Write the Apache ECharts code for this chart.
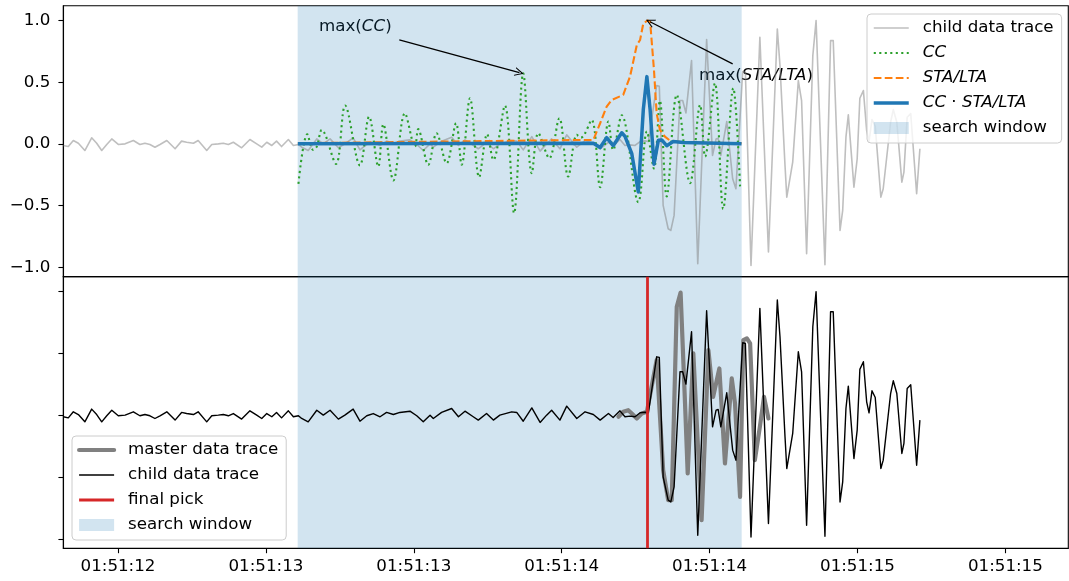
<!DOCTYPE html>
<html>
<head>
<meta charset="utf-8">
<script src="https://cdn.jsdelivr.net/npm/echarts@6/dist/echarts.min.js"></script>
<style>
html, body { margin: 0; padding: 0; background: #fff; }
#chart { width: 1069px; height: 581px; }
</style>
</head>
<body>
<div id="chart"></div>
<script>
// time axis is in seconds of 01:51:xx
var xTicks = [12.5, 13, 13.5, 14, 14.5, 15, 15.5];
var yTicks = [-1, -0.5, 0, 0.5, 1];

// child data trace (same trace in both panels)
var childT = [12.315,12.332,12.349,12.366,12.388,12.411,12.428,12.445,12.462,12.479,
  12.501,12.524,12.552,12.574,12.591,12.608,12.625,12.642,12.665,12.693,
  12.715,12.732,12.755,12.771,12.800,12.817,12.839,12.856,12.873,12.890,
  12.918,12.946,12.969,12.986,13.003,13.020,13.036,13.053,13.076,13.093,
  13.110,13.121,13.143,13.172,13.194,13.217,13.245,13.267,13.295,13.318,
  13.341,13.363,13.386,13.408,13.431,13.453,13.487,13.510,13.532,13.555,
  13.566,13.594,13.628,13.651,13.673,13.701,13.718,13.746,13.769,13.791,
  13.831,13.848,13.870,13.899,13.927,13.949,13.966,13.994,14.017,14.051,
  14.079,14.107,14.130,14.158,14.174,14.197,14.214,14.231,14.248,14.265,
  14.282,14.293,14.321,14.330,14.343,14.360,14.369,14.380,14.400,14.409,
  14.420,14.439,14.460,14.490,14.510,14.522,14.529,14.538,14.558,14.578,
  14.589,14.612,14.621,14.640,14.670,14.699,14.729,14.738,14.755,14.761,
  14.781,14.800,14.811,14.828,14.849,14.860,14.890,14.909,14.918,14.941,
  14.950,14.961,14.969,14.988,14.999,15.008,15.020,15.031,15.039,15.049,
  15.060,15.079,15.087,15.112,15.121,15.133,15.150,15.157,15.168,15.180,
  15.200,15.211];
var childV = [-0.013,-0.022,0.027,0.005,-0.054,0.049,0.005,-0.054,-0.005,0.040,
  -0.005,0,0.027,-0.005,0.005,-0.005,-0.027,-0.005,0.027,-0.040,
  0.022,0.013,0.005,0.027,-0.054,-0.005,0,0.005,-0.005,0.013,
  -0.032,0.035,0,-0.027,0.013,-0.013,0.022,-0.022,0.035,-0.013,
  -0.005,-0.027,-0.054,0.040,0,0.040,-0.032,0,0.049,-0.049,
  -0.005,0.013,-0.013,0.022,0.005,0.022,0.032,-0.005,-0.054,0,
  -0.027,0.022,0.054,-0.013,0.032,-0.013,-0.040,0.013,-0.040,0,
  0.027,0.022,-0.049,0.059,-0.059,0,0.040,-0.040,0.073,-0.027,
  0.027,0.005,-0.040,0.013,-0.019,0.035,-0.013,-0.008,-0.013,0.019,
  0.024,0.019,0.472,0.467,-0.499,-0.688,-0.702,-0.580,0.351,0.351,
  0.251,0.675,-0.972,0.845,-0.094,0.040,0.046,-0.094,0.181,-0.283,
  -0.364,0.586,0.580,-0.985,0.864,-0.877,0.931,0.634,-0.175,-0.432,
  -0.148,0.513,0.351,-0.891,0.715,0.999,-0.980,0.837,0.837,-0.702,
  -0.540,0.054,0.235,-0.351,-0.121,0.370,0.432,0.108,0.019,0.197,
  0.143,-0.432,-0.364,0.175,0.278,0.175,-0.310,-0.229,0.216,0.246,
  -0.405,-0.040];

// master data trace (bottom panel)
var masterT = [14.192,14.208,14.225,14.237,14.254,14.271,14.288,14.321,14.343,14.360,
  14.372,14.389,14.402,14.417,14.426,14.445,14.473,14.496,14.512,14.533,
  14.552,14.575,14.586,14.603,14.614,14.626,14.637,14.653,14.670,14.684,14.699];
var masterV = [-0.013,0.027,0.040,0.013,-0.027,0.013,0.027,0.445,-0.445,-0.688,
  -0.688,0.877,0.991,0.094,-0.472,0.499,-0.850,0.526,0.148,0.378,
  -0.391,0.297,0.094,-0.661,0.607,0.621,0.580,-0.364,-0.094,0.148,-0.027];

// CC
var ccT = [13.110,13.140,13.160,13.172,13.189,13.237,13.268,13.318,13.349,13.380,
  13.397,13.431,13.470,13.504,13.515,13.549,13.577,13.611,13.643,13.662,
  13.690,13.721,13.748,13.769,13.808,13.839,13.870,13.899,13.921,13.958,
  13.992,14.022,14.051,14.065,14.101,14.130,14.158,14.174,14.203,14.259,
  14.288,14.312,14.332,14.355,14.389,14.434,14.468,14.485,14.518,14.546,
  14.580,14.603];
var ccV = [-0.324,0.078,-0.049,-0.022,0.113,-0.162,0.310,-0.175,0.221,-0.184,
  0.159,-0.297,0.248,-0.022,0.119,-0.170,0.086,-0.157,0.167,-0.170,
  0.370,-0.270,0.078,-0.130,0.310,-0.561,0.572,-0.238,0.086,-0.116,
  0.208,-0.265,0.073,0.05,0.194,-0.352,0.181,-0.05,0.231,-0.473,
  0.10,-0.20,0.35,-0.426,0.397,-0.318,0.316,-0.103,0.491,-0.527,
  0.451,-0.345];

// STA/LTA
var staT = [13.108,14.107,14.130,14.152,14.169,14.208,14.231,14.254,14.265,14.276,
  14.290,14.299,14.312,14.321,14.332,14.349,14.366,14.389,14.423,14.608];
var staV = [0.005,0.032,0.167,0.302,0.356,0.397,0.545,0.802,0.842,0.977,
  1.000,0.991,0.599,0.248,0.113,0.059,0.027,0.019,0.011,0.005];

// CC * STA/LTA
var prodT = [13.108,14.107,14.130,14.152,14.174,14.203,14.214,14.237,14.259,14.276,
  14.288,14.299,14.312,14.327,14.338,14.355,14.377,14.411,14.608];
var prodV = [0.000,0.005,-0.030,0.050,-0.015,0.090,0.060,-0.080,-0.390,0.280,
  0.545,0.275,-0.165,0.030,0.032,-0.015,0.019,0.011,0.000];

var winStart = 13.1075, winEnd = 14.6085;
var pickTime = 14.2928;

var X0 = 12.3151, X1 = 15.7127;
var YMIN = -1.077, YMAX = 1.12;

var FONT = 'DejaVu Sans';
var FS = 16.7;
var WIN_COLOR = 'rgba(31,119,180,0.2)';

function pair(ts, vs) {
  return ts.map(function (t, i) { return [t, vs[i]]; });
}

var chevron = 'path://M0,10 L5,0 L10,10 L8.7,10 L5,2.6 L1.3,10 Z';

var rich = {
  n: { fontFamily: FONT, fontSize: FS, color: '#000' },
  i: { fontFamily: FONT, fontSize: FS, fontStyle: 'italic', color: '#000' }
};

var legendLabels = {
  'CC': '{i|CC}',
  'STA/LTA': '{i|STA/LTA}',
  'CC·STA/LTA': '{i|CC}{n| · }{i|STA/LTA}',
  'child data trace ': 'child data trace',
  'search window ': 'search window'
};

function legendBase() {
  return {
    orient: 'vertical',
    itemWidth: 35,
    itemHeight: 12,
    itemGap: 5,
    padding: [4, 8, 5, 5],
    backgroundColor: 'rgba(255,255,255,0.8)',
    borderColor: '#cccccc',
    borderWidth: 1,
    borderRadius: 4,
    selectedMode: false,
    // hide the marker dot that line series add to the legend icon
    itemStyle: { opacity: 0 },
    lineStyle: { width: 'inherit' },
    textStyle: { fontFamily: FONT, fontSize: FS, color: '#000', lineHeight: 20, padding: [0, 0, 0, 9], rich: rich },
    formatter: function (name) { return legendLabels[name] || name; }
  };
}

function windowItem(name) {
  return { name: name, icon: 'rect', itemStyle: { opacity: 1, color: WIN_COLOR } };
}

var legTop = legendBase();
legTop.left = 867;
legTop.top = 14;
legTop.data = ['child data trace', 'CC', 'STA/LTA', 'CC·STA/LTA', windowItem('search window')];

var legBot = legendBase();
legBot.left = 72;
legBot.top = 436;
legBot.data = ['master data trace', 'child data trace ', 'final pick', windowItem('search window ')];

function xAxisCfg(idx, labels) {
  return {
    gridIndex: idx, type: 'value', min: X0, max: X1,
    axisLine: { show: true, onZero: false, lineStyle: { color: '#000', width: 1.1 } },
    axisTick: { show: labels, length: 4.9, lineStyle: { color: '#000', width: 1.1 }, customValues: xTicks },
    axisLabel: {
      show: labels, customValues: xTicks, margin: 10,
      fontFamily: FONT, fontSize: FS, color: '#000',
      formatter: function (v) { return '01:51:' + Math.floor(v + 1e-9); }
    },
    splitLine: { show: false }
  };
}

function yAxisCfg(idx, labels) {
  return {
    gridIndex: idx, type: 'value', min: YMIN, max: YMAX,
    axisLine: { show: true, onZero: false, lineStyle: { color: '#000', width: 1.1 } },
    axisTick: { show: true, length: 4.9, lineStyle: { color: '#000', width: 1.1 }, customValues: yTicks },
    axisLabel: {
      show: labels, customValues: yTicks, margin: 13,
      fontFamily: FONT, fontSize: FS, color: '#000',
      formatter: function (v) { return (v < 0 ? '\u2212' : '') + Math.abs(v).toFixed(1); }
    },
    splitLine: { show: false }
  };
}

var windowArea = {
  silent: true,
  itemStyle: { color: WIN_COLOR },
  data: [[{ xAxis: winStart }, { xAxis: winEnd }]]
};

var option = {
  animation: false,
  grid: [
    { left: 63.3, top: 5.7, width: 1005, height: 271, show: true, borderColor: '#000', borderWidth: 1.1 },
    { left: 63.3, top: 276.7, width: 1005, height: 271.6, show: true, borderColor: '#000', borderWidth: 1.1 }
  ],
  xAxis: [xAxisCfg(0, false), xAxisCfg(1, true)],
  yAxis: [yAxisCfg(0, true), yAxisCfg(1, false)],
  legend: [legTop, legBot],
  series: [
    { name: 'search window', type: 'bar', xAxisIndex: 0, yAxisIndex: 0, data: [],
      itemStyle: { color: WIN_COLOR }, markArea: windowArea },
    { name: 'child data trace', type: 'line', xAxisIndex: 0, yAxisIndex: 0, symbol: 'none',
      color: 'rgba(128,128,128,0.5)', lineStyle: { width: 1.6, join: 'round' }, data: pair(childT, childV) },
    { name: 'CC', type: 'line', xAxisIndex: 0, yAxisIndex: 0, symbol: 'none', smooth: 0.35,
      color: '#2ca02c', lineStyle: { width: 2.1, type: [2.1, 3.4] }, data: pair(ccT, ccV) },
    { name: 'STA/LTA', type: 'line', xAxisIndex: 0, yAxisIndex: 0, symbol: 'none',
      color: '#ff7f0e', lineStyle: { width: 2.1, type: [7.7, 3.3], join: 'round' }, data: pair(staT, staV) },
    { name: 'CC·STA/LTA', type: 'line', xAxisIndex: 0, yAxisIndex: 0, symbol: 'none',
      color: '#1f77b4', lineStyle: { width: 3.5, join: 'round' }, data: pair(prodT, prodV),
      markLine: {
        silent: true,
        symbol: ['none', chevron],
        symbolSize: 9,
        label: { show: false },
        lineStyle: { color: '#000', width: 1.3, type: 'solid' },
        data: [
          [{ coord: [13.451, 0.842] }, { coord: [13.857, 0.577] }],
          [{ coord: [14.578, 0.648] }, { coord: [14.2985, 0.990] }]
        ]
      } },
    { name: 'search window ', type: 'bar', xAxisIndex: 1, yAxisIndex: 1, data: [],
      itemStyle: { color: WIN_COLOR }, markArea: windowArea },
    { name: 'master data trace', type: 'line', xAxisIndex: 1, yAxisIndex: 1, symbol: 'none',
      color: '#808080', lineStyle: { width: 4.2, join: 'round', cap: 'round' }, data: pair(masterT, masterV) },
    { name: 'child data trace ', type: 'line', xAxisIndex: 1, yAxisIndex: 1, symbol: 'none',
      color: '#000000', lineStyle: { width: 1.4, join: 'round' }, data: pair(childT, childV) },
    { name: 'final pick', type: 'line', xAxisIndex: 1, yAxisIndex: 1, symbol: 'none',
      color: '#d62728', lineStyle: { width: 2.8 }, data: [],
      markLine: {
        silent: true, symbol: ['none', 'none'], label: { show: false },
        lineStyle: { color: '#d62728', width: 2.8, type: 'solid' },
        data: [{ xAxis: pickTime }]
      } }
  ],
  graphic: [
    { type: 'text', x: 319, y: 27, silent: true,
      style: { text: '{n|max(}{i|CC}{n|)}', rich: rich, verticalAlign: 'middle', fill: '#000' } },
    { type: 'text', x: 699, y: 76, silent: true,
      style: { text: '{n|max(}{i|STA/LTA}{n|)}', rich: rich, verticalAlign: 'middle', fill: '#000' } }
  ]
};

var chart = echarts.init(document.getElementById('chart'), null, { renderer: 'canvas' });
chart.setOption(option);
</script>
</body>
</html>
